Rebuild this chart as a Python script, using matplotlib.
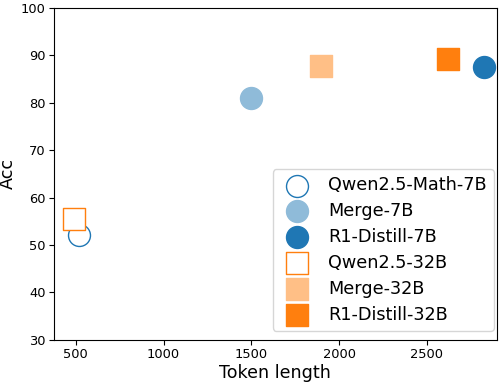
import matplotlib
matplotlib.use("Agg")
import matplotlib.pyplot as plt

labels = ["Qwen2.5-Math-7B", "Merge-7B", "R1-Distill-7B", "Qwen2.5-32B", "Merge-32B", "R1-Distill-32B"]
token_len = [520, 1500, 2825, 490, 1895, 2620]
acc = [52.2, 81.0, 87.5, 55.5, 87.8, 89.3]
markers = ["o", "o", "o", "s", "s", "s"]
faces = ["white", "#8fbbd9", "#1f77b4", "white", "#ffbf86", "#ff7f0e"]
edges = ["#1f77b4", "#8fbbd9", "#1f77b4", "#ff7f0e", "#ffbf86", "#ff7f0e"]

fig, ax = plt.subplots(figsize=(5.04, 3.84), dpi=100)
for x, y, m, fc, ec, lab in zip(token_len, acc, markers, faces, edges, labels):
    ax.scatter([x], [y], s=250, marker=m, facecolors=fc, edgecolors=ec, linewidths=1.0, label=lab, zorder=3)

ax.set_xlim(375, 2900)
ax.set_ylim(30, 100)
ax.set_xticks([500, 1000, 1500, 2000, 2500])
ax.set_yticks([30, 40, 50, 60, 70, 80, 90, 100])
ax.tick_params(labelsize=9.4, pad=2.5)
ax.set_xlabel("Token length", fontsize=12.6, labelpad=2)
ax.set_ylabel("Acc", fontsize=12.6, labelpad=3)
ax.legend(loc="lower right", fontsize=12.7, labelspacing=0.45, handletextpad=0.75,
          borderaxespad=0, bbox_to_anchor=(0.993, 0.027))
fig.subplots_adjust(left=0.107, right=0.986, top=0.979, bottom=0.115)
fig.savefig("out.png", dpi=100)
